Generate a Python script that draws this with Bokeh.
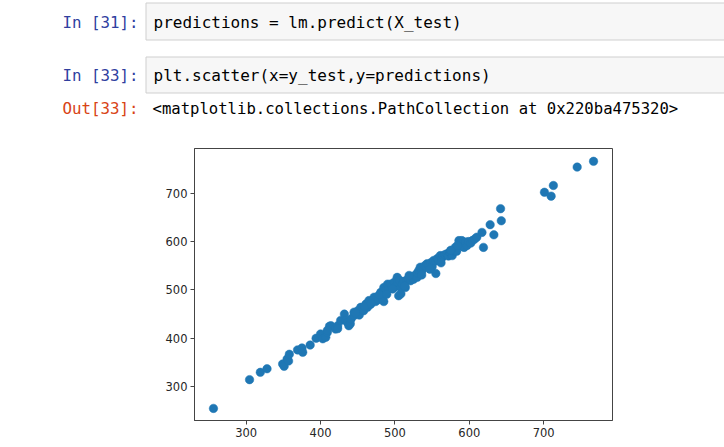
from bokeh.plotting import figure
from bokeh.layouts import column, row
from bokeh.models import Spacer, Range1d, FixedTicker
from bokeh.core.properties import value
from bokeh.embed import file_html
from bokeh.resources import INLINE

# ---- data ----
y_test = [256, 304.5, 319, 328, 349, 351, 355, 357, 358, 369, 375, 376, 386, 394, 400, 403, 407, 409, 412, 414, 420, 423, 409, 423,
          427, 432, 434, 436, 438, 440, 441, 445, 445, 450, 452, 454, 456, 458, 461, 463, 463, 465, 467, 470, 472, 474, 476, 478,
          481, 483, 485, 485, 485, 488, 490, 492, 494, 496, 499, 500, 503, 504, 505, 506, 508, 508, 510, 512, 514, 516, 518, 521, 523, 525, 527, 530, 530,
          532, 534, 536, 538, 540, 542, 543, 545, 548, 550, 552, 555, 555, 557, 559, 561, 563, 565, 567, 570, 572, 574, 577, 579, 581, 583, 586, 588, 590, 591, 593, 595, 597, 599,
          602, 604, 607, 610, 617, 619, 628, 633, 642, 643,
          701, 710, 713, 745, 767,
          447, 459, 468, 479, 489, 497, 513, 519, 536, 547, 562, 575, 584]
predictions = [255, 314.5, 329.6, 337, 347, 342, 357, 353, 367, 376, 380, 371, 386, 400, 409, 399, 402, 412, 425, 426, 419, 426, 416, 420,
               437, 450, 437, 433, 426, 430, 440, 447, 454, 457, 448, 464, 459, 457, 471, 464, 471, 478, 470, 478, 485, 476, 485, 480,
               495, 482, 505, 497, 476, 500, 512, 503, 512, 508, 516, 506, 526, 515, 488, 520, 505, 492, 512, 518, 505, 520, 523, 519, 528, 522, 530, 526, 535,
               540, 547, 538, 545, 550, 548, 554, 552, 556, 548, 561, 534, 560, 565, 562, 571, 566, 570, 573, 575, 570, 578, 571, 580, 588, 580, 602, 595, 602, 590, 588, 599, 592, 600,
               597, 602, 605, 609, 619, 588, 635, 614, 668, 643,
               702, 694, 716, 754, 766,
               452, 466, 472, 490, 491, 502, 508, 530, 531, 543, 556, 582, 592]
x_ticks = [300, 400, 500, 600, 700]
y_ticks = [300, 400, 500, 600, 700]

prompt_in1 = "In [31]:"
code1 = "predictions = lm.predict(X_test)"
prompt_in2 = "In [33]:"
code2 = "plt.scatter(x=y_test,y=predictions)"
prompt_out = "Out[33]:"
out_text = "<matplotlib.collections.PathCollection at 0x220ba475320>"

MONO = value("DejaVu Sans Mono")

# ---- notebook header (page pixel coordinates) ----
hdr = figure(width=724, height=130, x_range=Range1d(0, 724), y_range=Range1d(130, 0),
             x_axis_type=None, y_axis_type=None, output_backend="svg", toolbar_location=None,
             min_border=0, outline_line_color=None, background_fill_color="white",
             border_fill_color="white")
hdr.grid.visible = False

hdr.quad(left=[145.5, 145.5], right=[740, 740], top=[2.5, 56.5], bottom=[39.5, 92.5],
         fill_color="#f7f7f7", line_color="#cfcfcf", line_width=1)

hdr.text(x=[138, 138], y=[21.7, 75], text=[prompt_in1, prompt_in2], text_font=MONO,
         text_font_size="15.8px", text_color="#303F9F", text_align="right", text_baseline="middle")
hdr.text(x=[138], y=[108], text=[prompt_out], text_font=MONO,
         text_font_size="15.8px", text_color="#D84315", text_align="right", text_baseline="middle")
hdr.text(x=[153, 153], y=[21.7, 75], text=[code1, code2], text_font=MONO,
         text_font_size="16px", text_color="#000000", text_align="left", text_baseline="middle")
hdr.text(x=[152], y=[108], text=[out_text], text_font=MONO,
         text_font_size="15.6px", text_color="#000000", text_align="left", text_baseline="middle")

# ---- scatter plot ----
p = figure(width=463, height=311, x_range=Range1d(230.5, 792.5), y_range=Range1d(230, 792.5),
           output_backend="svg", toolbar_location=None,
           min_border_left=40, min_border_right=5, min_border_top=18, min_border_bottom=21,
           background_fill_color="white", border_fill_color="white")
p.grid.visible = False
p.outline_line_color = "#444444"
p.outline_line_width = 1

p.scatter(y_test, predictions, size=8.5, fill_color="#1f77b4", line_color="#1f77b4", line_width=0.5)

p.xaxis.ticker = FixedTicker(ticks=x_ticks)
p.yaxis.ticker = FixedTicker(ticks=y_ticks)
for ax in (p.xaxis, p.yaxis):
    ax.axis_line_color = "#444444"
    ax.major_tick_line_color = "#444444"
    ax.minor_tick_line_color = None
    ax.major_tick_out = 4
    ax.major_tick_in = 0
    ax.major_label_text_font = "DejaVu Sans"
    ax.major_label_text_font_size = "11.5px"
    ax.major_label_text_color = "#262626"
p.xaxis.major_label_standoff = 3
p.yaxis.major_label_standoff = 3

layout = column(hdr, row(Spacer(width=154), p))

open("out.html", "w").write(file_html(layout, INLINE))
